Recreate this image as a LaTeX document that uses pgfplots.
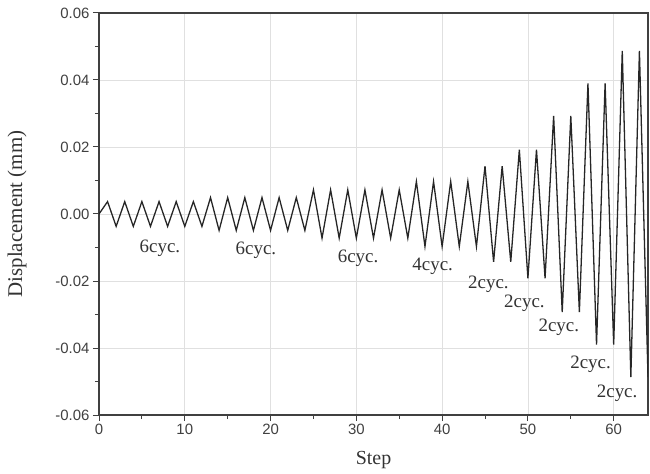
\documentclass[border=0pt]{standalone}
\usepackage{pgfplots}
\pgfplotsset{compat=1.18}
\usepackage{fontspec}
\setmainfont{Liberation Serif}
\newfontfamily\ticksans{Liberation Sans}
\begin{document}
\begin{tikzpicture}
\begin{axis}[
  scale only axis, width=549bp, height=402bp,
  xmin=0, xmax=64, ymin=-0.06, ymax=0.06,
  xtick={0,10,...,60}, minor xtick={5,15,...,55},
  ytick={-0.06,-0.04,...,0.06},
  yticklabels={-0.06,-0.04,-0.02,0.00,0.02,0.04,0.06},
  minor ytick={-0.05,-0.03,-0.01,0.01,0.03,0.05},
  xtick pos=bottom, ytick pos=left, tick align=outside,
  major tick length=6bp, minor tick length=4bp,
  every tick/.style={black!75, line width=1pt},
  axis line style={black!75, line width=1.2pt},
  grid=major, major grid style={black!12, line width=0.6pt},
  ticklabel style={font=\ticksans\fontsize{15}{17}\selectfont, text=black!75},
  /pgf/number format/assume math mode=true,
  scaled y ticks=false,
  xlabel={Step}, ylabel={Displacement (mm)},
  every axis y label/.style={at={(axis description cs:-0.149,0.5)}, rotate=90, anchor=center,
     font=\fontsize{21}{24}\selectfont, text=black!80},
  every axis x label/.style={at={(axis description cs:0.5,-0.112)}, anchor=center,
     font=\fontsize{20}{24}\selectfont, text=black!80},
]
\addplot[black!85, line width=1.3pt] coordinates {
(0,0)
(1,0.0037)(2,-0.0037)(3,0.0037)(4,-0.0037)(5,0.0037)(6,-0.0037)
(7,0.0037)(8,-0.0037)(9,0.0037)(10,-0.0037)(11,0.0037)(12,-0.0037)
(13,0.0049)(14,-0.0049)(15,0.0049)(16,-0.0049)(17,0.0049)(18,-0.0049)
(19,0.0049)(20,-0.0049)(21,0.0049)(22,-0.0049)(23,0.0049)(24,-0.0049)
(25,0.0072)(26,-0.0072)(27,0.0072)(28,-0.0072)(29,0.0072)(30,-0.0072)
(31,0.0072)(32,-0.0072)(33,0.0072)(34,-0.0072)(35,0.0072)(36,-0.0072)
(37,0.0097)(38,-0.0097)(39,0.0097)(40,-0.0097)(41,0.0097)(42,-0.0097)
(43,0.0097)(44,-0.0097)
(45,0.0143)(46,-0.0143)(47,0.0143)(48,-0.0143)
(49,0.0192)(50,-0.0192)(51,0.0192)(52,-0.0192)
(53,0.0293)(54,-0.0293)(55,0.0293)(56,-0.0293)
(57,0.0390)(58,-0.0390)(59,0.0390)(60,-0.0390)
(61,0.0487)(62,-0.0487)(63,0.0487)(64,-0.0487)
};
\begin{scope}[every node/.style={font=\fontsize{19}{21}\selectfont, text=black!80, inner sep=0pt}]
\node at (axis cs:7.1,-0.0102) {6cyc.};
\node at (axis cs:18.3,-0.0108) {6cyc.};
\node at (axis cs:30.2,-0.0132) {6cyc.};
\node at (axis cs:38.9,-0.0156) {4cyc.};
\node at (axis cs:45.4,-0.0210) {2cyc.};
\node at (axis cs:49.6,-0.0267) {2cyc.};
\node at (axis cs:53.6,-0.0339) {2cyc.};
\node at (axis cs:57.3,-0.0450) {2cyc.};
\node at (axis cs:60.4,-0.0534) {2cyc.};
\end{scope}
\end{axis}
\pgfresetboundingbox
\path (current axis.south west) ++(-99bp,-59bp) rectangle ++(650bp,474bp);
\end{tikzpicture}
\end{document}
